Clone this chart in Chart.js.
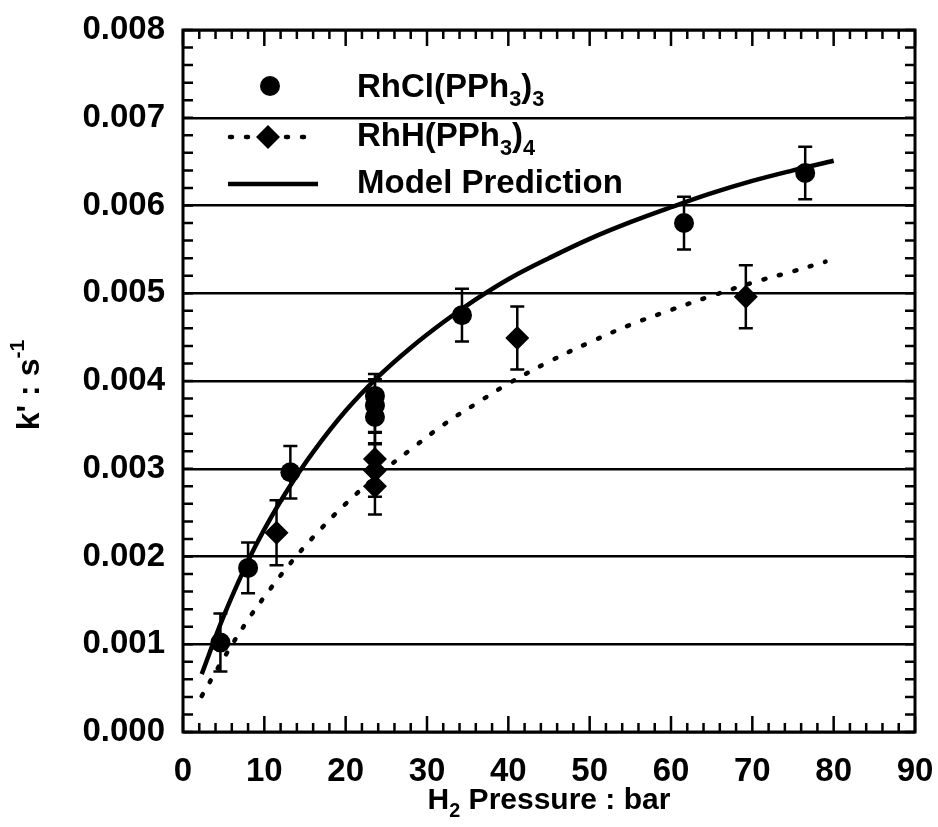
<!DOCTYPE html>
<html>
<head>
<meta charset="utf-8">
<script src="https://cdn.jsdelivr.net/npm/chart.js@4.4.1/dist/chart.umd.min.js"></script>
<style>
  body { margin: 0; background: #fff; }
</style>
</head>
<body>
<canvas id="chartRate" width="938" height="827"></canvas>
<script>
// measured points, RhCl(PPh3)3 (circles)
const pressureCl = [4.6, 8.0, 13.2, 23.6, 23.6, 23.6, 34.3, 61.6, 76.5];
const rateCl = [0.00102, 0.00187, 0.00296, 0.00383, 0.00372, 0.00359, 0.00475, 0.00580, 0.00637];
const errCl = [0.00033, 0.00029, 0.00030, 0.00025, 0.00030, 0.00030, 0.00030, 0.00030, 0.00030];

// measured points, RhH(PPh3)4 (diamonds)
const pressureH = [11.5, 23.6, 23.6, 23.6, 41.1, 69.2];
const rateH = [0.00227, 0.00311, 0.00298, 0.00280, 0.00449, 0.00496];
const errH = [0.00037, 0.00030, 0.00030, 0.00032, 0.00036, 0.00036];

// model prediction curves
const modelClX = [2.3, 5, 8, 10, 13, 16, 20, 24, 28, 32, 36, 40, 45, 50, 55, 60, 65, 70, 75, 80];
const modelClY = [0.00066, 0.00132, 0.00195, 0.00231, 0.00278, 0.00319, 0.00366, 0.00405, 0.00438, 0.00467,
                  0.00493, 0.00516, 0.00540, 0.00562, 0.00581, 0.00598, 0.00614, 0.00628, 0.00640, 0.00651];
const modelHX = [2.3, 5, 8, 10, 13, 16, 20, 24, 28, 32, 36, 40, 45, 50, 55, 60, 65, 70, 75, 79];
const modelHY = [0.00041, 0.00084, 0.00128, 0.00154, 0.00190, 0.00222, 0.00260, 0.00293, 0.00322, 0.00350,
                 0.00374, 0.00397, 0.00422, 0.00444, 0.00464, 0.00481, 0.00497, 0.00512, 0.00525, 0.00536];

const xTicks = [0, 10, 20, 30, 40, 50, 60, 70, 80, 90];
const yTicks = [0, 0.001, 0.002, 0.003, 0.004, 0.005, 0.006, 0.007, 0.008];

const FONT = '"Liberation Sans", Arial, sans-serif';
const dotDash = [2, 14];

function toPoints(xs, ys) {
    return xs.map((x, i) => ({ x: x, y: ys[i] }));
}

// text with sub (1) / superscript (-1) pieces
function drawRich(ctx, parts, x, y, size) {
    let cx = x;
    parts.forEach(p => {
        const s = p.s ? size * 0.66 : size;
        ctx.font = 'bold ' + s + 'px ' + FONT;
        let dy = 0;
        if (p.s === 1) dy = size * 0.36;
        if (p.s === -1) dy = -size * 0.38;
        ctx.fillText(p.t, cx, y + dy);
        cx += ctx.measureText(p.t).width;
    });
    return cx - x;
}

function richWidth(ctx, parts, size) {
    let w = 0;
    parts.forEach(p => {
        const s = p.s ? size * 0.66 : size;
        ctx.font = 'bold ' + s + 'px ' + FONT;
        w += ctx.measureText(p.t).width;
    });
    return w;
}

const errorBars = {
    id: 'errorBars',
    beforeDatasetsDraw(chart) {
        const ctx = chart.ctx;
        const yScale = chart.scales.y;
        ctx.save();
        ctx.strokeStyle = '#000';
        ctx.lineWidth = 2.5;
        chart.data.datasets.forEach((ds, di) => {
            if (!ds.errors) return;
            const meta = chart.getDatasetMeta(di);
            meta.data.forEach((pt, i) => {
                const v = ds.data[i].y;
                const top = yScale.getPixelForValue(v + ds.errors[i]);
                const bot = yScale.getPixelForValue(v - ds.errors[i]);
                ctx.beginPath();
                ctx.moveTo(pt.x, top);
                ctx.lineTo(pt.x, bot);
                ctx.moveTo(pt.x - 7, top);
                ctx.lineTo(pt.x + 7, top);
                ctx.moveTo(pt.x - 7, bot);
                ctx.lineTo(pt.x + 7, bot);
                ctx.stroke();
            });
        });
        ctx.restore();
    }
};

const frameAndTicks = {
    id: 'frameAndTicks',
    afterDatasetsDraw(chart) {
        const ctx = chart.ctx;
        const a = chart.chartArea;
        const xs = chart.scales.x;
        const ys = chart.scales.y;
        ctx.save();
        ctx.strokeStyle = '#000';
        ctx.lineWidth = 3;
        ctx.strokeRect(a.left, a.top, a.right - a.left, a.bottom - a.top);

        ctx.lineWidth = 2.5;
        ctx.beginPath();
        for (let i = 0; i <= 45; i++) {
            const px = xs.getPixelForValue(i * 2);
            const len = (i % 5 === 0) ? 16 : 9;
            ctx.moveTo(px, a.bottom);
            ctx.lineTo(px, a.bottom - len);
            ctx.moveTo(px, a.top);
            ctx.lineTo(px, a.top + len);
        }
        for (let i = 0; i <= 40; i++) {
            const py = ys.getPixelForValue(i * 0.0002);
            ctx.moveTo(a.left, py);
            ctx.lineTo(a.left + 10, py);
            ctx.moveTo(a.right, py);
            ctx.lineTo(a.right - 10, py);
        }
        ctx.stroke();
        ctx.restore();
    }
};

const labelsAndLegend = {
    id: 'labelsAndLegend',
    afterDraw(chart) {
        const ctx = chart.ctx;
        const a = chart.chartArea;
        ctx.save();
        ctx.fillStyle = '#000';
        ctx.strokeStyle = '#000';
        ctx.textBaseline = 'middle';
        ctx.textAlign = 'left';

        // x axis title
        const xt = [{ t: 'H' }, { t: '2', s: 1 }, { t: ' Pressure : bar' }];
        const xw = richWidth(ctx, xt, 30);
        drawRich(ctx, xt, (a.left + a.right) / 2 - xw / 2, 801, 30);

        // y axis title
        const yt = [{ t: "k' : s" }, { t: '-1', s: -1 }];
        const yw = richWidth(ctx, yt, 32);
        ctx.save();
        ctx.translate(30, 385);
        ctx.rotate(-Math.PI / 2);
        drawRich(ctx, yt, -yw / 2, 0, 32);
        ctx.restore();

        // legend
        const lx = 357;
        ctx.beginPath();
        ctx.arc(270, 86, 10, 0, Math.PI * 2);
        ctx.fill();
        drawRich(ctx, [{ t: 'RhCl(PPh' }, { t: '3', s: 1 }, { t: ')' }, { t: '3', s: 1 }], lx, 88, 33);

        ctx.lineWidth = 4.5;
        ctx.lineCap = 'round';
        ctx.setLineDash(dotDash);
        ctx.beginPath();
        ctx.moveTo(230, 137);
        ctx.lineTo(256, 137);
        ctx.moveTo(286, 137);
        ctx.lineTo(318, 137);
        ctx.stroke();
        ctx.setLineDash([]);
        ctx.beginPath();
        ctx.moveTo(268, 125);
        ctx.lineTo(280, 137);
        ctx.lineTo(268, 149);
        ctx.lineTo(256, 137);
        ctx.closePath();
        ctx.fill();
        drawRich(ctx, [{ t: 'RhH(PPh' }, { t: '3', s: 1 }, { t: ')' }, { t: '4', s: 1 }], lx, 137, 33);

        ctx.lineCap = 'butt';
        ctx.beginPath();
        ctx.moveTo(228, 184);
        ctx.lineTo(318, 184);
        ctx.stroke();
        drawRich(ctx, [{ t: 'Model Prediction' }], lx, 184, 33);
        ctx.restore();
    }
};

const ctx1 = document.getElementById('chartRate').getContext('2d');
const rateChart = new Chart(ctx1, {
    type: 'scatter',
    data: {
        datasets: [
            {
                label: 'RhCl(PPh3)3',
                data: toPoints(pressureCl, rateCl),
                errors: errCl,
                pointStyle: 'circle',
                pointRadius: 10,
                backgroundColor: '#000',
                borderColor: '#000',
                borderWidth: 0,
                showLine: false
            },
            {
                label: 'RhH(PPh3)4',
                data: toPoints(pressureH, rateH),
                errors: errH,
                pointStyle: 'rectRot',
                pointRadius: 12,
                backgroundColor: '#000',
                borderColor: '#000',
                borderWidth: 0,
                showLine: false
            },
            {
                label: 'Model Prediction',
                data: toPoints(modelClX, modelClY),
                showLine: true,
                borderColor: '#000',
                borderWidth: 4.5,
                pointRadius: 0,
                tension: 0.4
            },
            {
                label: 'Model Prediction (RhH)',
                data: toPoints(modelHX, modelHY),
                showLine: true,
                borderColor: '#000',
                borderWidth: 4.5,
                borderDash: dotDash,
                borderCapStyle: 'round',
                pointRadius: 0,
                tension: 0.4
            }
        ]
    },
    options: {
        responsive: false,
        animation: false,
        layout: { padding: { top: 30, right: 23, left: 0, bottom: 0 } },
        plugins: {
            legend: { display: false },
            tooltip: { enabled: false }
        },
        scales: {
            x: {
                type: 'linear',
                min: 0,
                max: 90,
                afterBuildTicks: scale => { scale.ticks = xTicks.map(v => ({ value: v })); },
                afterFit: scale => {
                    scale.height = 95;
                    scale.paddingLeft = 0;
                    scale.paddingRight = 0;
                },
                grid: { display: false, drawTicks: false },
                border: { display: false },
                ticks: {
                    color: '#000',
                    padding: 20,
                    maxRotation: 0,
                    font: { family: FONT, size: 33, weight: 'bold' }
                }
            },
            y: {
                type: 'linear',
                min: 0,
                max: 0.008,
                afterBuildTicks: scale => { scale.ticks = yTicks.map(v => ({ value: v })); },
                afterFit: scale => {
                    scale.width = 183;
                    scale.paddingTop = 0;
                    scale.paddingBottom = 0;
                },
                grid: { display: true, drawTicks: false, color: '#000', lineWidth: 2.5 },
                border: { display: false },
                ticks: {
                    color: '#000',
                    padding: 18,
                    callback: v => v.toFixed(3),
                    font: { family: FONT, size: 33, weight: 'bold' }
                }
            }
        }
    },
    plugins: [errorBars, frameAndTicks, labelsAndLegend]
});
</script>
</body>
</html>
